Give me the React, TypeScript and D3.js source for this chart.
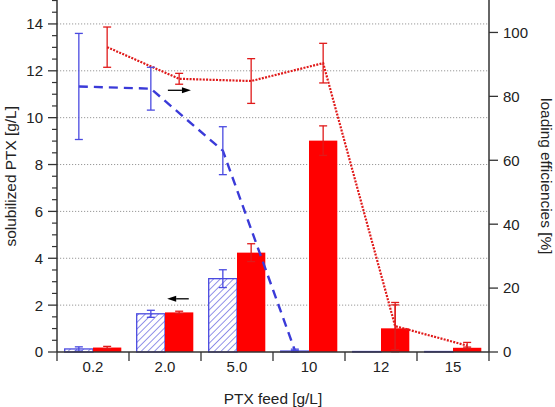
import React from "react";
import * as d3 from "d3";

const categories = ["0.2", "2.0", "5.0", "10", "12", "15"];
const solubBlue = [0.13, 1.63, 3.13, 0.04, 0.02, 0.02];
const solubBlueErr = [0.09, 0.15, 0.38, 0.03, 0, 0];
const solubRed = [0.19, 1.69, 4.24, 9.02, 1.01, 0.18];
const solubRedErr = [0.05, 0.05, 0.38, 0.63, 1.0, 0.03];
const loadBlue = [83.1, 82.4, 63.0, 0.5, 0, 0];
const loadBlueErr = [16.6, 6.7, 7.5, 0.4, 0, 0];
const loadRed = [95.4, 85.5, 84.8, 90.4, 8.1, 2.0];
const loadRedErr = [6.3, 1.7, 7.0, 6.2, 7.4, 1.0];
const leftTicks = [0, 2, 4, 6, 8, 10, 12, 14];
const rightTicks = [0, 20, 40, 60, 80, 100];

const W = 555, H = 407;
const M = { left: 57, right: 489, top: 0.5, bottom: 352 };
const BLUE = "#4a4ae0";
const BLUE_LINE = "#3a3ad8";
const RED = "#ff0000";
const RED_LINE = "#e01a1a";
const AXIS = "#333";
const FONT = "'Liberation Sans', Arial, sans-serif";

export default function App() {
  const x = d3.scaleBand<string>().domain(categories).range([M.left, M.right]).paddingInner(0).paddingOuter(0);
  const sub = d3.scaleBand<string>().domain(["b", "r"]).range([0, x.bandwidth()]).paddingInner(0).paddingOuter(0.272);
  const yL = d3.scaleLinear().domain([0, 15]).range([M.bottom, M.top]);
  const yR = d3.scaleLinear().domain([0, 110]).range([M.bottom, M.top]);
  const bw = sub.bandwidth();
  const cx = (c: string, s: string) => (x(c) as number) + (sub(s) as number) + bw / 2;

  const minorTicks = d3.range(0, 15.01, 0.5).filter((v) => !leftTicks.includes(v));

  const line = d3.line<[number, number]>().x((d) => d[0]).y((d) => d[1]);
  const redPts: [number, number][] = categories.map((c, i) => [cx(c, "r"), yR(loadRed[i])]);
  const bluePts: [number, number][] = categories.slice(0, 4).map((c, i) => [cx(c, "b"), yR(loadBlue[i])]);

  const errBar = (xc: number, yTop: number, yBot: number, color: string, key: string, cap = 4) => (
    <g key={key} stroke={color} strokeWidth={1.3} fill="none">
      <line x1={xc} x2={xc} y1={yTop} y2={yBot} />
      <line x1={xc - cap} x2={xc + cap} y1={yTop} y2={yTop} />
      <line x1={xc - cap} x2={xc + cap} y1={yBot} y2={yBot} />
    </g>
  );

  // annotation arrows (in category/value space)
  const arrowR = { cat: "2.0", frac0: 0.54, frac1: 0.86, val: 81.9 };
  const arrowL = { cat: "2.0", frac0: 0.83, frac1: 0.53, val: 2.27 };
  const arrow = (x0: number, x1: number, y: number, key: string) => {
    const dir = Math.sign(x1 - x0);
    const hx = x1 - dir * 9;
    return (
      <g key={key}>
        <line x1={x0} x2={hx} y1={y} y2={y} stroke="#000" strokeWidth={1.3} />
        <path d={`M${x1},${y} L${hx},${y - 3} L${hx},${y + 3} Z`} fill="#000" />
      </g>
    );
  };

  return (
    <svg width={W} height={H} style={{ position: "absolute", left: 0, top: 0, background: "#fff" }} fontFamily={FONT}>
      <defs>
        <pattern id="hatch" patternUnits="userSpaceOnUse" width="4.7" height="4.7" patternTransform="rotate(45)">
          <rect width="4.7" height="4.7" fill="#fff" />
          <line x1="0" y1="0" x2="0" y2="4.7" stroke={BLUE_LINE} strokeWidth="1.1" />
        </pattern>
      </defs>
      <rect width={W} height={H} fill="#fff" />

      {/* grid */}
      {leftTicks.filter((v) => v > 0).map((v) => (
        <line key={"g" + v} x1={M.left} x2={M.right} y1={yL(v)} y2={yL(v)} stroke="#999" strokeWidth={1} strokeDasharray="1.2 1.8" />
      ))}

      {/* bars */}
      {categories.map((c, i) => {
        const xb = (x(c) as number) + (sub("b") as number);
        const xr = (x(c) as number) + (sub("r") as number);
        return (
          <g key={"bar" + c}>
            <rect x={xb} y={yL(solubBlue[i])} width={bw} height={yL(0) - yL(solubBlue[i])} fill="url(#hatch)" stroke={BLUE} strokeWidth={1.3} />
            <rect x={xr} y={yL(solubRed[i])} width={bw} height={yL(0) - yL(solubRed[i])} fill={RED} />
          </g>
        );
      })}
      {categories.map((c, i) =>
        solubBlueErr[i] > 0 ? errBar(cx(c, "b"), yL(solubBlue[i] + solubBlueErr[i]), yL(solubBlue[i] - solubBlueErr[i]), BLUE, "be" + c) : null
      )}
      {categories.map((c, i) =>
        solubRedErr[i] > 0 ? errBar(cx(c, "r"), yL(solubRed[i] + solubRedErr[i]), yL(solubRed[i] - solubRedErr[i]), RED_LINE, "re" + c) : null
      )}

      {/* lines */}
      <path d={line(bluePts) as string} fill="none" stroke={BLUE_LINE} strokeWidth={2.4} strokeDasharray="9 6" />
      <path d={line(redPts) as string} fill="none" stroke={RED_LINE} strokeWidth={2.2} strokeDasharray="2 1.3" />
      {categories.slice(0, 4).map((c, i) =>
        errBar(cx(c, "b"), yR(loadBlue[i] + loadBlueErr[i]), yR(loadBlue[i] - loadBlueErr[i]), BLUE, "ble" + c)
      )}
      {categories.map((c, i) =>
        errBar(cx(c, "r"), yR(loadRed[i] + loadRedErr[i]), yR(loadRed[i] - loadRedErr[i]), RED_LINE, "rle" + c)
      )}

      {/* arrows */}
      {arrow(
        (x(arrowR.cat) as number) + arrowR.frac0 * x.bandwidth(),
        (x(arrowR.cat) as number) + arrowR.frac1 * x.bandwidth(),
        yR(arrowR.val),
        "ar"
      )}
      {arrow(
        (x(arrowL.cat) as number) + arrowL.frac0 * x.bandwidth(),
        (x(arrowL.cat) as number) + arrowL.frac1 * x.bandwidth(),
        yL(arrowL.val),
        "al"
      )}

      {/* left axis */}
      <line x1={M.left} x2={M.left} y1={0} y2={M.bottom} stroke={AXIS} strokeWidth={1.5} />
      {leftTicks.map((v) => (
        <g key={"lt" + v}>
          <line x1={M.left - 9} x2={M.left} y1={yL(v)} y2={yL(v)} stroke={AXIS} strokeWidth={1.3} />
          <text x={M.left - 14} y={yL(v)} dy="0.36em" textAnchor="end" fontSize={15} fill="#222">{v}</text>
        </g>
      ))}
      {minorTicks.map((v) => (
        <line key={"lm" + v} x1={M.left - 5} x2={M.left} y1={yL(v)} y2={yL(v)} stroke={AXIS} strokeWidth={1.2} />
      ))}

      {/* right axis */}
      <line x1={M.right} x2={M.right} y1={0} y2={M.bottom} stroke={AXIS} strokeWidth={1.5} />
      {rightTicks.map((v) => (
        <g key={"rt" + v}>
          <line x1={M.right} x2={M.right + 9} y1={yR(v)} y2={yR(v)} stroke={AXIS} strokeWidth={1.3} />
          <text x={M.right + 14} y={yR(v)} dy="0.36em" textAnchor="start" fontSize={15} fill="#222">{v}</text>
        </g>
      ))}

      {/* bottom axis */}
      <line x1={M.left} x2={M.right} y1={M.bottom} y2={M.bottom} stroke={AXIS} strokeWidth={1.5} />
      {[...categories.map((c) => x(c) as number), M.right].map((xv, i) => (
        <line key={"bt" + i} x1={xv} x2={xv} y1={M.bottom} y2={M.bottom + 9} stroke={AXIS} strokeWidth={1.3} />
      ))}
      {categories.map((c) => (
        <text key={"bl" + c} x={(x(c) as number) + x.bandwidth() / 2} y={372} textAnchor="middle" fontSize={15} fill="#222">{c}</text>
      ))}

      {/* axis titles */}
      <text x={(M.left + M.right) / 2} y={404} textAnchor="middle" fontSize={15.4} fill="#222">PTX feed [g/L]</text>
      <text transform={`translate(16,${(M.top + M.bottom) / 2}) rotate(-90)`} textAnchor="middle" fontSize={15.4} fill="#222">solubilized PTX [g/L]</text>
      <text transform={`translate(541,${(M.top + M.bottom) / 2}) rotate(90)`} textAnchor="middle" fontSize={15.4} fill="#222">loading efficiencies [%]</text>
    </svg>
  );
}
